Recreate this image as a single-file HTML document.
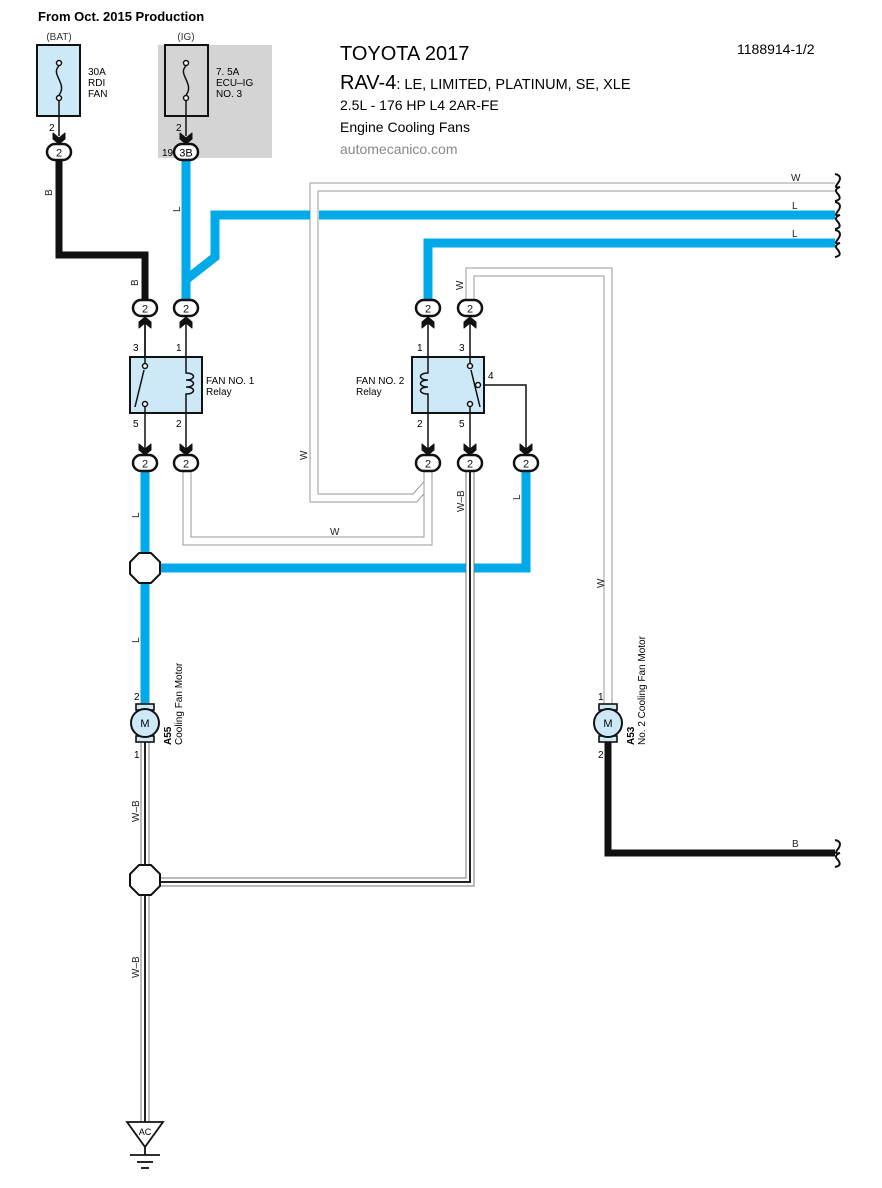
<!DOCTYPE html>
<html><head><meta charset="utf-8"><style>
html,body{margin:0;padding:0;background:#fff;}
svg{display:block;font-family:"Liberation Sans",Arial,sans-serif;}
</style></head><body>
<svg width="882" height="1188" viewBox="0 0 882 1188" xmlns="http://www.w3.org/2000/svg">
<defs>
<g id="conn"><rect x="-12" y="-8" width="24" height="16" rx="8" fill="#fff" stroke="#111" stroke-width="2.5"/><text x="0" y="4.5" font-size="11" text-anchor="middle" fill="#111">2</text></g>
<g id="chevUp"><path d="M-6,10 L-6,4 L0,-1 L6,4 L6,10 L0,5 Z" fill="#111" stroke="#111" stroke-width="1" stroke-linejoin="round"/></g>
<g id="chevDn"><path d="M-6,-10 L-6,-4 L0,1 L6,-4 L6,-10 L0,-5 Z" fill="#111" stroke="#111" stroke-width="1" stroke-linejoin="round"/></g>
<g id="oct"><polygon points="-6,-15 6,-15 15,-6 15,6 6,15 -6,15 -15,6 -15,-6" fill="#fff" stroke="#111" stroke-width="2"/></g>
<g id="motor"><rect x="-9" y="-19" width="18" height="6" fill="#cde9f7" stroke="#111" stroke-width="1.6"/><rect x="-9" y="13" width="18" height="6" fill="#cde9f7" stroke="#111" stroke-width="1.6"/><circle r="14" fill="#cde9f7" stroke="#111" stroke-width="2"/><text y="4" font-size="11" text-anchor="middle">M</text></g>
<g id="wave"><path d="M-2,-13 C4,-12 4,-8 1,-4 C-2,0 -2,1 3,0 C-2,2 -2,4 1,7 C4,11 3,13 -2,14" fill="none" stroke="#111" stroke-width="2"/></g>
</defs>

<text x="38" y="21" font-size="13" font-weight="bold">From Oct. 2015 Production</text>
<text x="59" y="40" font-size="10" text-anchor="middle" fill="#333">(BAT)</text>
<text x="186" y="40" font-size="10" text-anchor="middle" fill="#333">(IG)</text>
<text x="340" y="60" font-size="20">TOYOTA 2017</text>
<text x="340" y="89"><tspan font-size="20">RAV-4</tspan><tspan font-size="14.5">: LE, LIMITED, PLATINUM, SE, XLE</tspan></text>
<text x="340" y="110" font-size="14">2.5L - 176 HP  L4 2AR-FE</text>
<text x="340" y="132" font-size="14">Engine Cooling Fans</text>
<text x="340" y="154" font-size="14" fill="#888">automecanico.com</text>
<text x="737" y="54" font-size="14">1188914-1/2</text>

<rect x="158" y="45" width="114" height="113" fill="#d4d4d4"/>
<rect x="37" y="45" width="43" height="71" fill="#cde9f7" stroke="#111" stroke-width="2"/>
<rect x="165" y="45" width="43" height="71" fill="none" stroke="#111" stroke-width="2"/>
<g fill="none" stroke="#111" stroke-width="1.5">
<path d="M59,66 C50,74 68,84 59,95"/><circle cx="59" cy="63" r="2.5" fill="#fff"/><circle cx="59" cy="98" r="2.5" fill="#fff"/>
<path d="M186,66 C177,74 195,84 186,95"/><circle cx="186" cy="63" r="2.5" fill="#fff"/><circle cx="186" cy="98" r="2.5" fill="#fff"/>
<line x1="59" y1="101" x2="59" y2="136"/><line x1="186" y1="101" x2="186" y2="136"/>
</g>
<text x="88" y="75" font-size="10">30A</text><text x="88" y="86" font-size="10">RDI</text><text x="88" y="97" font-size="10">FAN</text>
<text x="216" y="75" font-size="10">7. 5A</text><text x="216" y="86" font-size="10">ECU–IG</text><text x="216" y="97" font-size="10">NO. 3</text>
<text x="49" y="131" font-size="10">2</text><text x="176" y="131" font-size="10">2</text>
<text x="162" y="156" font-size="10">19</text>

<g fill="none" stroke-linejoin="miter">
<path d="M835,187 L314,187 L314,498 L415,498 L428,483 L428,470" stroke="#999" stroke-width="9"/>
<path d="M835,187 L314,187 L314,498 L415,498 L428,483 L428,470" stroke="#fff" stroke-width="7"/>
<path d="M470,300 L470,272 L608,272 L608,705" stroke="#999" stroke-width="9"/>
<path d="M470,300 L470,272 L608,272 L608,705" stroke="#fff" stroke-width="7"/>
<path d="M187,470 L187,541 L428,541 L428,470" stroke="#999" stroke-width="9"/>
<path d="M187,470 L187,541 L428,541 L428,470" stroke="#fff" stroke-width="7"/>
</g>
<g fill="none" stroke="#00a9e8" stroke-width="9" stroke-linejoin="miter">
<path d="M186,160 L186,300"/>
<path d="M187,279 L215,257 L215,215 L310,215"/>
<path d="M319,215 L835,215"/>
<path d="M835,243 L428,243 L428,300"/>
<path d="M145,470 L145,708"/>
<path d="M145,568 L526,568 L526,470"/>
</g>
<g fill="none" stroke="#111" stroke-width="7">
<path d="M59,160 L59,255 L145,255 L145,300"/>
<path d="M608,742 L608,853 L835,853"/>
</g>
<g fill="none">
<path d="M470,470 L470,882 L145,882 M145,738 L145,1122" stroke="#777" stroke-width="9"/>
<path d="M470,470 L470,882 L145,882 M145,738 L145,1122" stroke="#fff" stroke-width="7"/>
<path d="M470,470 L470,882 L145,882 M145,738 L145,1122" stroke="#222" stroke-width="2"/>
</g>

<use href="#chevDn" x="59" y="143"/>
<use href="#conn" x="59" y="152"/>
<use href="#chevDn" x="186" y="143"/>
<rect x="174" y="144" width="24" height="16" rx="8" fill="#fff" stroke="#111" stroke-width="2.5"/><text x="186" y="156.5" font-size="11" text-anchor="middle">3B</text>

<g stroke="#111" stroke-width="1.5" fill="none">
<line x1="145" y1="318" x2="145" y2="455"/><line x1="186" y1="318" x2="186" y2="455"/>
<line x1="428" y1="318" x2="428" y2="455"/><line x1="470" y1="318" x2="470" y2="455"/>
<path d="M478,385 L526,385 L526,455"/>
</g>
<rect x="130" y="357" width="72" height="56" fill="#cde9f7" stroke="#111" stroke-width="2"/>
<rect x="412" y="357" width="72" height="56" fill="#cde9f7" stroke="#111" stroke-width="2"/>
<g stroke="#111" stroke-width="1.5" fill="none">
<line x1="145" y1="318" x2="145" y2="366"/><line x1="145" y1="403" x2="145" y2="413"/>
<line x1="144" y1="370" x2="135" y2="407"/>
<circle cx="145" cy="366" r="2.5" fill="#fff"/><circle cx="145" cy="404" r="2.5" fill="#fff"/>
<path d="M186,357 L186,373 C196,373 196,380 186,380 C196,380 196,387 186,387 C196,387 196,394 186,394 L186,413"/>
<path d="M428,357 L428,373 C418,373 418,380 428,380 C418,380 418,387 428,387 C418,387 418,394 428,394 L428,413"/>
<line x1="470" y1="357" x2="470" y2="366"/><line x1="470" y1="403" x2="470" y2="413"/>
<line x1="471" y1="370" x2="480" y2="407"/>
<circle cx="470" cy="366" r="2.5" fill="#fff"/><circle cx="470" cy="404" r="2.5" fill="#fff"/><circle cx="478" cy="385" r="2.5" fill="#fff"/>
</g>
<text x="206" y="384" font-size="10">FAN NO. 1</text><text x="206" y="395" font-size="10">Relay</text>
<text x="356" y="384" font-size="10">FAN NO. 2</text><text x="356" y="395" font-size="10">Relay</text>
<g font-size="10">
<text x="133" y="351">3</text><text x="176" y="351">1</text><text x="133" y="427">5</text><text x="176" y="427">2</text>
<text x="417" y="351">1</text><text x="459" y="351">3</text><text x="417" y="427">2</text><text x="459" y="427">5</text><text x="488" y="379">4</text>
</g>
<g>
<use href="#chevUp" x="145" y="318"/><use href="#chevUp" x="186" y="318"/><use href="#chevUp" x="428" y="318"/><use href="#chevUp" x="470" y="318"/>
<use href="#conn" x="145" y="308"/><use href="#conn" x="186" y="308"/><use href="#conn" x="428" y="308"/><use href="#conn" x="470" y="308"/>
<use href="#chevDn" x="145" y="454"/><use href="#chevDn" x="186" y="454"/><use href="#chevDn" x="428" y="454"/><use href="#chevDn" x="470" y="454"/><use href="#chevDn" x="526" y="454"/>
<use href="#conn" x="145" y="463"/><use href="#conn" x="186" y="463"/><use href="#conn" x="428" y="463"/><use href="#conn" x="470" y="463"/><use href="#conn" x="526" y="463"/>
</g>

<use href="#oct" x="145" y="568"/>
<use href="#oct" x="145" y="880"/>
<use href="#motor" x="145" y="723"/>
<use href="#motor" x="608" y="723"/>
<text x="134" y="700" font-size="10">2</text><text x="134" y="758" font-size="10">1</text>
<text x="598" y="700" font-size="10">1</text><text x="598" y="758" font-size="10">2</text>
<text transform="translate(171,745) rotate(-90)" font-size="10" font-weight="bold">A55</text>
<text transform="translate(182,745) rotate(-90)" font-size="10">Cooling Fan Motor</text>
<text transform="translate(634,745) rotate(-90)" font-size="10" font-weight="bold">A53</text>
<text transform="translate(645,745) rotate(-90)" font-size="10">No.  2 Cooling Fan Motor</text>

<polygon points="127,1122 163,1122 145,1147" fill="#fff" stroke="#111" stroke-width="1.8"/>
<text x="145" y="1135" font-size="9" text-anchor="middle">AC</text>
<g stroke="#111" stroke-width="1.8">
<line x1="145" y1="1147" x2="145" y2="1155"/><line x1="130" y1="1155" x2="160" y2="1155"/>
<line x1="137" y1="1162" x2="153" y2="1162"/><line x1="141" y1="1168" x2="149" y2="1168"/>
</g>

<use href="#wave" x="837" y="187"/><use href="#wave" x="837" y="215"/><use href="#wave" x="837" y="243"/><use href="#wave" x="837" y="853"/>

<g font-size="10" fill="#222">
<text x="791" y="181">W</text><text x="792" y="209">L</text><text x="792" y="237">L</text><text x="792" y="847">B</text>
<text x="330" y="535">W</text>
<text transform="translate(52,196) rotate(-90)">B</text>
<text transform="translate(138,286) rotate(-90)">B</text>
<text transform="translate(180,212) rotate(-90)">L</text>
<text transform="translate(307,460) rotate(-90)">W</text>
<text transform="translate(463,290) rotate(-90)">W</text>
<text transform="translate(464,512) rotate(-90)">W–B</text>
<text transform="translate(520,500) rotate(-90)">L</text>
<text transform="translate(139,518) rotate(-90)">L</text>
<text transform="translate(139,643) rotate(-90)">L</text>
<text transform="translate(139,822) rotate(-90)">W–B</text>
<text transform="translate(139,978) rotate(-90)">W–B</text>
<text transform="translate(604,588) rotate(-90)">W</text>
</g>
</svg>
</body></html>
